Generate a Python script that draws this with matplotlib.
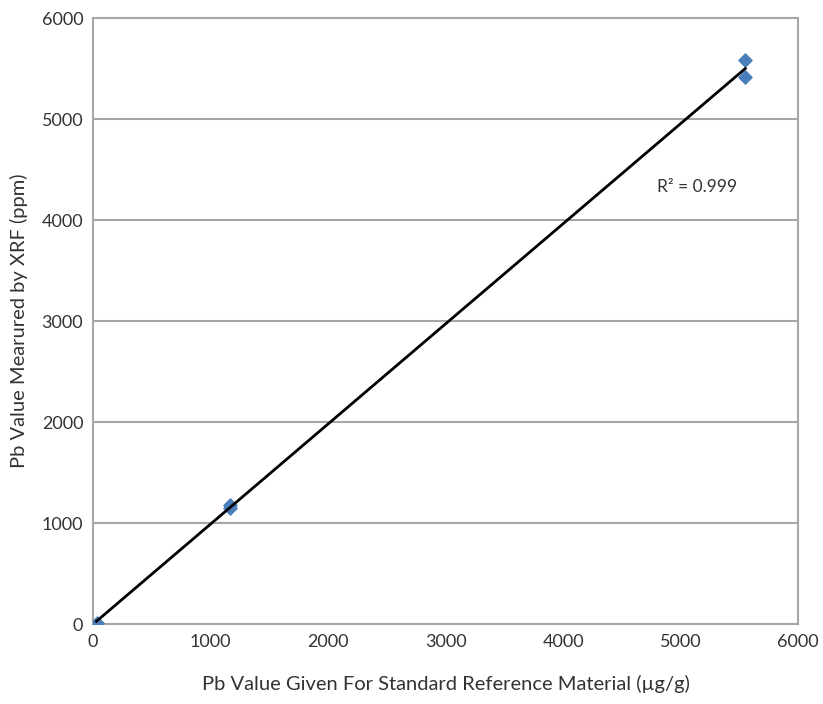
import numpy as np
import matplotlib.pyplot as plt

plt.rcParams['font.family'] = ['Lato', 'DejaVu Sans']

# Pb standards: certified value vs XRF reading
given_pb = [30, 1162, 1165, 5549, 5549]
measured_pb = [15, 1175, 1145, 5584, 5418]

fig = plt.figure(figsize=(8.23, 7.04), dpi=100)
ax = fig.add_axes([0.113, 0.1136, 0.857, 0.8604])

ax.scatter(given_pb, measured_pb, marker='D', s=45, color='#4a7ebb', zorder=3)

# least-squares trend line across the data range
slope, intercept = np.polyfit(given_pb, measured_pb, 1)
xs = np.array([min(given_pb), max(given_pb)])
ax.plot(xs, slope * xs + intercept, color='black', lw=2, zorder=4)

ax.text(4800, 4280, 'R\u00b2 = 0.999', fontsize=12.5, color='#333333')

ax.set_xlim(0, 6000)
ax.set_ylim(0, 6000)
ax.set_xticks(range(0, 6001, 1000))
ax.set_yticks(range(0, 6001, 1000))
ax.tick_params(length=0, labelsize=13, pad=7, labelcolor='#333333')
ax.yaxis.grid(True, color='#a6a6a6', lw=1.5)
ax.set_axisbelow(True)
for sp in ax.spines.values():
    sp.set_color('#a6a6a6')
    sp.set_linewidth(1.5)

ax.set_xlabel('Pb Value Given For Standard Reference Material (\u00b5g/g)', fontsize=14.5, labelpad=18, color='#333333')
ax.set_ylabel('Pb Value Mearured by XRF (ppm)', fontsize=14.5, labelpad=10, color='#333333')

fig.savefig('out.png', dpi=100)
